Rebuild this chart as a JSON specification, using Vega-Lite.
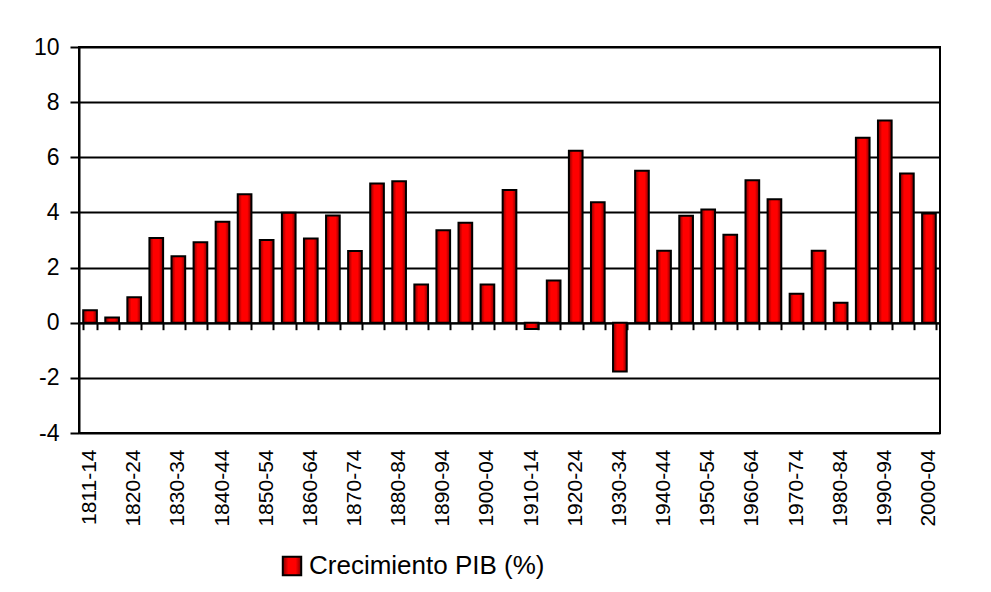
{
  "$schema": "https://vega.github.io/schema/vega-lite/v6.json",
  "width": 861,
  "height": 386,
  "autosize": {"type": "none"},
  "padding": {"left": 79, "top": 47, "right": 51, "bottom": 159},
  "background": "white",
  "config": {
    "font": "Liberation Sans",
    "view": {"stroke": "black", "strokeWidth": 2},
    "axis": {"labelColor": "black", "labelFont": "Liberation Sans"}
  },
  "data": {
    "values": [
      {"periodo": "1811-14", "pib": 0.45, "serie": "Crecimiento PIB (%)"},
      {"periodo": "1815-19", "pib": 0.19, "serie": "Crecimiento PIB (%)"},
      {"periodo": "1820-24", "pib": 0.92, "serie": "Crecimiento PIB (%)"},
      {"periodo": "1825-29", "pib": 3.07, "serie": "Crecimiento PIB (%)"},
      {"periodo": "1830-34", "pib": 2.41, "serie": "Crecimiento PIB (%)"},
      {"periodo": "1835-39", "pib": 2.92, "serie": "Crecimiento PIB (%)"},
      {"periodo": "1840-44", "pib": 3.66, "serie": "Crecimiento PIB (%)"},
      {"periodo": "1845-49", "pib": 4.66, "serie": "Crecimiento PIB (%)"},
      {"periodo": "1850-54", "pib": 3.0, "serie": "Crecimiento PIB (%)"},
      {"periodo": "1855-59", "pib": 3.99, "serie": "Crecimiento PIB (%)"},
      {"periodo": "1860-64", "pib": 3.05, "serie": "Crecimiento PIB (%)"},
      {"periodo": "1865-69", "pib": 3.89, "serie": "Crecimiento PIB (%)"},
      {"periodo": "1870-74", "pib": 2.6, "serie": "Crecimiento PIB (%)"},
      {"periodo": "1875-79", "pib": 5.05, "serie": "Crecimiento PIB (%)"},
      {"periodo": "1880-84", "pib": 5.13, "serie": "Crecimiento PIB (%)"},
      {"periodo": "1885-89", "pib": 1.39, "serie": "Crecimiento PIB (%)"},
      {"periodo": "1890-94", "pib": 3.35, "serie": "Crecimiento PIB (%)"},
      {"periodo": "1895-99", "pib": 3.63, "serie": "Crecimiento PIB (%)"},
      {"periodo": "1900-04", "pib": 1.39, "serie": "Crecimiento PIB (%)"},
      {"periodo": "1905-09", "pib": 4.81, "serie": "Crecimiento PIB (%)"},
      {"periodo": "1910-14", "pib": -0.23, "serie": "Crecimiento PIB (%)"},
      {"periodo": "1915-19", "pib": 1.53, "serie": "Crecimiento PIB (%)"},
      {"periodo": "1920-24", "pib": 6.24, "serie": "Crecimiento PIB (%)"},
      {"periodo": "1925-29", "pib": 4.37, "serie": "Crecimiento PIB (%)"},
      {"periodo": "1930-34", "pib": -1.77, "serie": "Crecimiento PIB (%)"},
      {"periodo": "1935-39", "pib": 5.51, "serie": "Crecimiento PIB (%)"},
      {"periodo": "1940-44", "pib": 2.61, "serie": "Crecimiento PIB (%)"},
      {"periodo": "1945-49", "pib": 3.88, "serie": "Crecimiento PIB (%)"},
      {"periodo": "1950-54", "pib": 4.11, "serie": "Crecimiento PIB (%)"},
      {"periodo": "1955-59", "pib": 3.19, "serie": "Crecimiento PIB (%)"},
      {"periodo": "1960-64", "pib": 5.17, "serie": "Crecimiento PIB (%)"},
      {"periodo": "1965-69", "pib": 4.48, "serie": "Crecimiento PIB (%)"},
      {"periodo": "1970-74", "pib": 1.05, "serie": "Crecimiento PIB (%)"},
      {"periodo": "1975-79", "pib": 2.61, "serie": "Crecimiento PIB (%)"},
      {"periodo": "1980-84", "pib": 0.72, "serie": "Crecimiento PIB (%)"},
      {"periodo": "1985-89", "pib": 6.71, "serie": "Crecimiento PIB (%)"},
      {"periodo": "1990-94", "pib": 7.33, "serie": "Crecimiento PIB (%)"},
      {"periodo": "1995-99", "pib": 5.41, "serie": "Crecimiento PIB (%)"},
      {"periodo": "2000-04", "pib": 3.96, "serie": "Crecimiento PIB (%)"}
    ]
  },
  "resolve": {"axis": {"x": "independent"}},
  "layer": [
    {
      "mark": {
        "type": "bar",
        "strokeWidth": 2,
        "fill": {
          "gradient": "linear",
          "x1": 0, "y1": 0, "x2": 1, "y2": 0,
          "stops": [
            {"offset": 0, "color": "#800000"},
            {"offset": 0.3, "color": "#ff0000"},
            {"offset": 0.7, "color": "#ff0000"},
            {"offset": 1, "color": "#800000"}
          ]
        }
      },
      "encoding": {
        "x": {
          "field": "periodo",
          "type": "nominal",
          "sort": null,
          "scale": {"paddingInner": 0.38, "paddingOuter": 0.19},
          "axis": {
            "orient": "bottom",
            "title": null,
            "labels": false,
            "offset": -110.3,
            "domain": true,
            "domainColor": "black",
            "domainWidth": 2,
            "ticks": true,
            "tickBand": "extent",
            "tickColor": "black",
            "tickWidth": 2,
            "tickSize": 7,
            "grid": false
          }
        },
        "y": {
          "field": "pib",
          "type": "quantitative",
          "scale": {"domain": [-4, 10], "nice": false, "zero": false},
          "axis": {
            "title": null,
            "values": [-4, -2, 0, 2, 4, 6, 8, 10],
            "labelExpr": "'' + datum.value",
            "labelFontSize": 23,
            "labelPadding": 11,
            "domain": true,
            "domainColor": "black",
            "domainWidth": 2,
            "tickColor": "black",
            "tickWidth": 2,
            "tickSize": 9,
            "grid": true,
            "gridColor": "black",
            "gridWidth": 2,
            "gridOpacity": 1
          }
        },
        "stroke": {
          "field": "serie",
          "type": "nominal",
          "scale": {"range": ["black"]},
          "legend": {
            "title": null,
            "orient": "none",
            "legendX": 200,
            "legendY": 506,
            "padding": 0,
            "symbolType": "square",
            "symbolSize": 340,
            "symbolFillColor": "#e60000",
            "symbolStrokeColor": "black",
            "symbolStrokeWidth": 2,
            "labelFontSize": 26,
            "labelLimit": 600,
            "labelFont": "Liberation Sans",
            "labelColor": "black",
            "labelOffset": 4
          }
        }
      }
    },
    {
      "mark": {"type": "bar", "opacity": 0},
      "encoding": {
        "x": {
          "field": "periodo",
          "type": "nominal",
          "sort": null,
          "axis": {
            "orient": "bottom",
            "title": null,
            "domain": false,
            "ticks": false,
            "grid": false,
            "labelAngle": 270,
            "labelFontSize": 21,
            "labelPadding": 16,
            "labelOverlap": false,
            "values": ["1811-14", "1820-24", "1830-34", "1840-44", "1850-54", "1860-64", "1870-74", "1880-84", "1890-94", "1900-04", "1910-14", "1920-24", "1930-34", "1940-44", "1950-54", "1960-64", "1970-74", "1980-84", "1990-94", "2000-04"]
          }
        },
        "y": {"field": "pib", "type": "quantitative"}
      }
    }
  ]
}
